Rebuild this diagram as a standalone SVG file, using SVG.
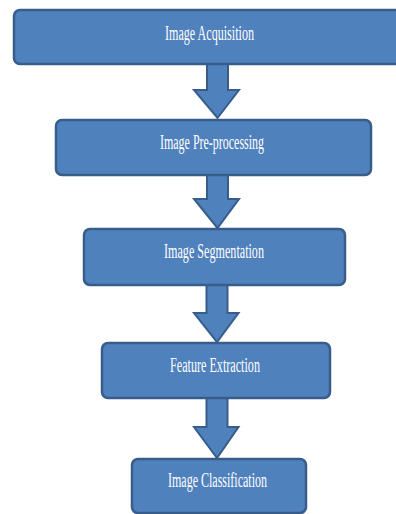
<svg xmlns="http://www.w3.org/2000/svg" width="396" height="514" viewBox="0 0 396 514">
<style>
.box{fill:#4F81BD;stroke:#385D8A;stroke-width:2.5}
.arr{fill:#4F81BD;stroke:#385D8A;stroke-width:2;stroke-linejoin:miter}
.t{font-family:"Liberation Serif","Times New Roman",serif;font-size:20.5px;fill:#FFFFFF;text-anchor:middle}
</style>
<rect width="396" height="514" fill="#FFFFFF"/>
<g id="connectors">
<polygon class="arr" points="207,64 228,64 228,90 239,90 217.5,118 194,90 207,90"/>
<polygon class="arr" points="207,175 228,175 228,199 239,199 217.5,228 194,199 207,199"/>
<polygon class="arr" points="206.5,285 227.5,285 227.5,313 238.5,313 217,342 194,313 206.5,313"/>
<polygon class="arr" points="206.5,398 227.5,398 227.5,427 238.5,427 217,458 194,427 206.5,427"/>
</g>
<g id="node1">
<rect class="box" x="14" y="10" width="400" height="54" rx="6"/>
<text class="t" x="209.5" y="40" textLength="89" lengthAdjust="spacingAndGlyphs">Image Acquisition</text>
</g>
<g id="node2">
<rect class="box" x="56" y="120" width="315" height="55" rx="6"/>
<text class="t" x="212" y="149" textLength="104" lengthAdjust="spacingAndGlyphs">Image Pre-processing</text>
</g>
<g id="node3">
<rect class="box" x="84" y="229" width="261" height="56" rx="6"/>
<text class="t" x="214" y="258" textLength="100" lengthAdjust="spacingAndGlyphs">Image Segmentation</text>
</g>
<g id="node4">
<rect class="box" x="102" y="343" width="228" height="55" rx="6"/>
<text class="t" x="215" y="372" textLength="90" lengthAdjust="spacingAndGlyphs">Feature Extraction</text>
</g>
<g id="node5">
<rect class="box" x="132" y="459" width="174" height="54" rx="6"/>
<text class="t" x="217.5" y="487" textLength="99" lengthAdjust="spacingAndGlyphs">Image Classification</text>
</g>
</svg>
